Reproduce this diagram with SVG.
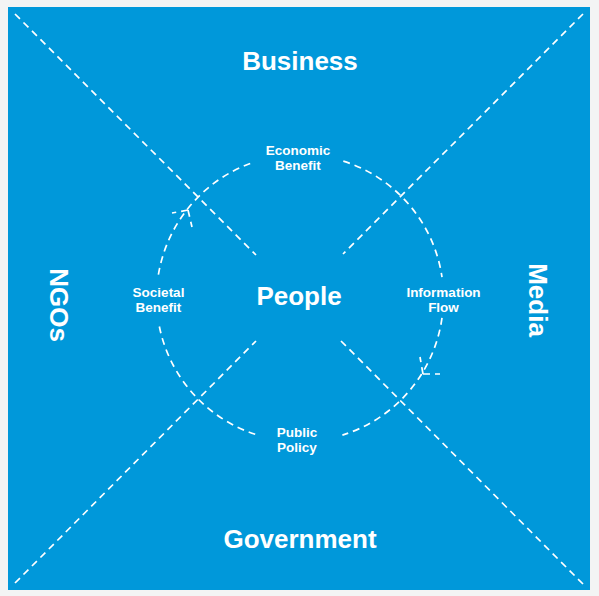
<svg xmlns="http://www.w3.org/2000/svg" width="599" height="596" viewBox="0 0 599 596">
  <style>
    .big { font-family: "Liberation Sans", Arial, sans-serif; font-weight: bold; font-size: 26px; fill: #ffffff; text-anchor: middle; }
    .small { font-family: "Liberation Sans", Arial, sans-serif; font-weight: bold; font-size: 13.5px; fill: #ffffff; text-anchor: middle; }
    .dash { fill: none; stroke: #ffffff; stroke-width: 1.7; stroke-dasharray: 7 5; }
  </style>
  <rect x="0" y="0" width="599" height="596" fill="#f3f4f4"/>
  <rect x="8" y="7" width="582" height="583" fill="#0098da"/>

  <g id="connectors">
    <line class="dash" x1="15" y1="14" x2="256" y2="255"/>
    <line class="dash" x1="583" y1="14" x2="343" y2="254"/>
    <line class="dash" x1="15" y1="583" x2="256" y2="341"/>
    <line class="dash" x1="583" y1="584" x2="341" y2="341"/>
    <path class="dash" d="M158.4,274.7 A143.5,143.5 0 0 1 250.2,163.5"/>
    <path class="dash" d="M343.3,161.1 A143.5,143.5 0 0 1 442,277.1"/>
    <path class="dash" d="M442,317.9 A143.5,143.5 0 0 1 342.4,435.1"/>
    <path class="dash" d="M255.2,434.3 A143.5,143.5 0 0 1 159.1,325.2"/>
    <path class="dash" d="M188,210 L172,213 M188,210 L192,227"/>
    <path class="dash" d="M423,374 L440,374 M423,374 L420,357"/>
  </g>

  <g id="business"><text class="big" x="300" y="70">Business</text></g>
  <g id="government"><text class="big" x="300" y="548">Government</text></g>
  <g id="people"><text class="big" x="299" y="305">People</text></g>
  <g id="ngos"><text class="big" transform="translate(50,305) rotate(90)">NGOs</text></g>
  <g id="media"><text class="big" transform="translate(529,300) rotate(90)">Media</text></g>

  <g id="economic-benefit"><text class="small" x="298" y="154.5">Economic</text><text class="small" x="298" y="169.5">Benefit</text></g>
  <g id="societal-benefit"><text class="small" x="158.5" y="297">Societal</text><text class="small" x="158.5" y="312">Benefit</text></g>
  <g id="information-flow"><text class="small" x="443.5" y="297">Information</text><text class="small" x="443.5" y="312">Flow</text></g>
  <g id="public-policy"><text class="small" x="297" y="436.5">Public</text><text class="small" x="297" y="451.5">Policy</text></g>
</svg>
